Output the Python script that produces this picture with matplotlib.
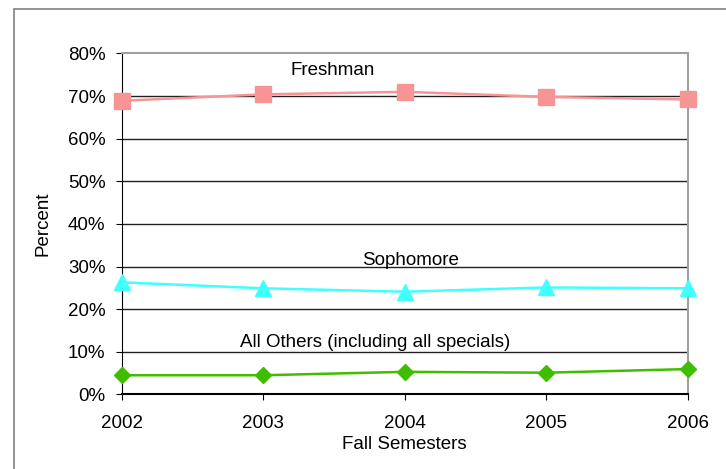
import matplotlib.pyplot as plt
from matplotlib.patches import Rectangle

years = [2002, 2003, 2004, 2005, 2006]
freshman = [68.9, 70.4, 71.0, 69.8, 69.2]
sophomore = [26.3, 24.9, 24.1, 25.1, 24.9]
others = [4.5, 4.5, 5.3, 5.1, 5.95]
yticks = [0, 10, 20, 30, 40, 50, 60, 70, 80]

plt.rcParams['font.family'] = ['Liberation Sans', 'DejaVu Sans']
FS = 13.5

fig = plt.figure(figsize=(7.26, 4.69), dpi=100)
# outer chart border (only left and top edges are visible)
fig.patches.append(Rectangle((14 / 726, -0.1), 1.2, 1 - 9 / 469 + 0.1,
                             transform=fig.transFigure, fill=False,
                             edgecolor='#808080', linewidth=1.2))
ax = fig.add_axes([0.1674, 0.159, 0.7798, 0.727])

for y in yticks[1:-1]:
    ax.axhline(y, color='#202020', linewidth=1.0, zorder=1)

ax.plot(years, freshman, color='#F79595', marker='s', markersize=12,
        linewidth=1.8, zorder=3, clip_on=False)
ax.plot(years, sophomore, color='#40FFFF', marker='^', markersize=12,
        linewidth=1.8, zorder=3, clip_on=False)
ax.plot(years, others, color='#3FBE00', marker='D', markersize=8.2,
        linewidth=1.8, zorder=3, clip_on=False)

ax.text(2003.49, 74.9, 'Freshman', fontsize=FS, ha='center', va='baseline')
ax.text(2004.04, 30.4, 'Sophomore', fontsize=FS, ha='center', va='baseline')
ax.text(2003.79, 11.2, 'All Others (including all specials)', fontsize=FS,
        ha='center', va='baseline')

ax.set_xlim(2002, 2006)
ax.set_ylim(0, 80)
ax.set_xticks(years)
ax.set_yticks(yticks)
ax.set_yticklabels([f'{v}%' for v in yticks])
ax.tick_params(labelsize=FS, direction='out', length=4.5, color='black')
ax.tick_params(axis='y', pad=7)
ax.tick_params(axis='x', pad=10)

ax.spines['left'].set_color('black')
ax.spines['bottom'].set_color('black')
ax.spines['bottom'].set_linewidth(1.5)
ax.spines['top'].set_color('#A0A0A0')
ax.spines['right'].set_color('#A0A0A0')
ax.spines['top'].set_linewidth(1.5)
ax.spines['right'].set_linewidth(1.5)

ax.set_xlabel('Fall Semesters', fontsize=FS, labelpad=3)
ax.set_ylabel('Percent', fontsize=FS, labelpad=12)

fig.savefig('out.png', dpi=100)
